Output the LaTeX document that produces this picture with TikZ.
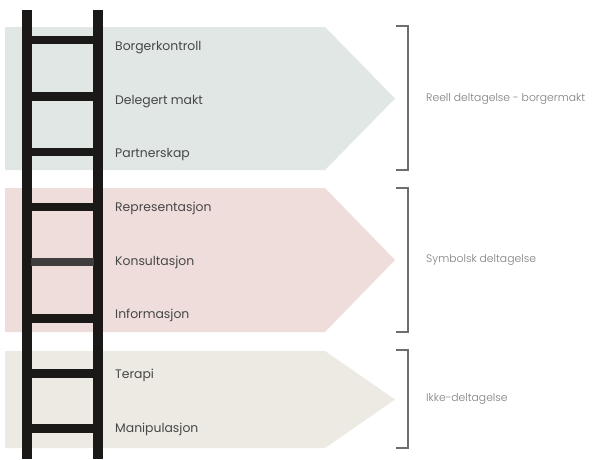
\documentclass[tikz,border=0pt]{standalone}
\usepackage{fontspec}
\setmainfont{Poppins}
\newfontfamily\poplight{Poppins}[UprightFont=* Light]
\definecolor{bandA}{HTML}{E0E7E4}
\definecolor{bandB}{HTML}{EFDDDB}
\definecolor{bandC}{HTML}{EDEAE3}
\definecolor{railc}{HTML}{1A1918}
\definecolor{rungGrey}{HTML}{3E3E3E}
\definecolor{labc}{HTML}{474747}
\definecolor{grpc}{HTML}{7E7E7E}
\definecolor{brc}{HTML}{6E6E6E}
\tikzset{
  rail/.style={fill=railc, draw=none},
  rung/.style={fill=railc, draw=none},
  steplabel/.style={anchor=base west, inner sep=0pt, text=labc, font=\fontsize{12.4}{14}\selectfont},
  grouplabel/.style={anchor=base west, inner sep=0pt, text=grpc, font=\poplight\fontsize{10.8}{13}\selectfont},
  bracket/.style={draw=brc, line width=1.3pt},
}
\begin{document}
\begin{tikzpicture}[x=1pt,y=-1pt]
\useasboundingbox[fill=white] (0,0) rectangle (597,459);
% bands
\fill[bandA] (5,27) -- (325,27) -- (395,98.5) -- (325,170) -- (5,170) -- cycle;
\fill[bandB] (5,188) -- (325,188) -- (395,260) -- (325,332) -- (5,332) -- cycle;
\fill[bandC] (5,351) -- (325,351) -- (395,399.5) -- (325,448) -- (5,448) -- cycle;
% ladder rails
\fill[rail] (21.5,10) rectangle (31.5,459);
\fill[rail] (93,10) rectangle (103,459);
% rungs
\foreach \y in {40,96.5,151.7,206.7,318.3,373.3,428.3}{
  \fill[rung] (31,\y-4.2) rectangle (93.5,\y+4.2);
}
\fill[rungGrey] (31,261.7-4.2) rectangle (93.5,261.7+4.2);
% step labels
\node[steplabel] (borg) at (115,50) {Borgerkontroll};
\node[steplabel] (dele) at (115,104) {Delegert makt};
\node[steplabel] (part) at (115,157.3) {Partnerskap};
\node[steplabel] (repr) at (115,211) {Representasjon};
\node[steplabel] (kons) at (115,265) {Konsultasjon};
\node[steplabel] (info) at (115,318.5) {Informasjon};
\node[steplabel] (tera) at (115,378) {Terapi};
\node[steplabel] (mani) at (115,432) {Manipulasjon};
% brackets
\draw[bracket] (396,26) -- (408,26) -- (408,170) -- (396,170);
\draw[bracket] (396,188) -- (408,188) -- (408,332) -- (396,332);
\draw[bracket] (396,350) -- (408,350) -- (408,448) -- (396,448);
% group labels
\node[grouplabel] (reell) at (426,101.7) {Reell deltagelse - borgermakt};
\node[grouplabel] (symb) at (426,262) {Symbolsk deltagelse};
\node[grouplabel] (ikke) at (426,401.7) {Ikke-deltagelse};
\end{tikzpicture}
\end{document}
